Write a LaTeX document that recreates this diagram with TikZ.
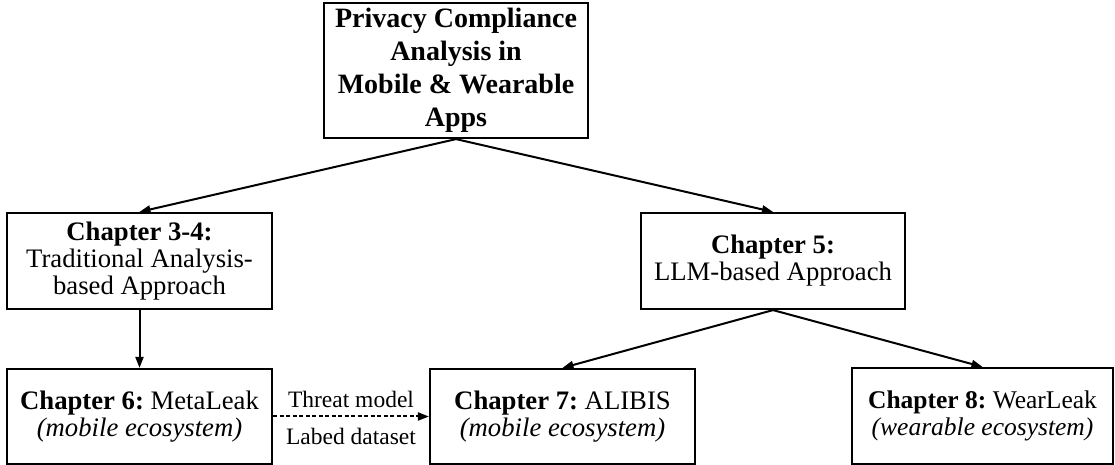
\documentclass[tikz,border=0pt]{standalone}
\usepackage{fontspec}
\setmainfont{Liberation Serif}
\usetikzlibrary{arrows.meta}
\frenchspacing
\begin{document}
\begin{tikzpicture}[x=1pt,y=1pt,
  box/.style={draw=black, line width=2.2pt, align=center, inner sep=0pt,
    font=\fontsize{26.7}{27}\selectfont},
  arr/.style={line width=2pt, -{Triangle[length=11pt,width=8pt]}},
  lbl/.style={font=\fontsize{23.5}{25}\selectfont, inner sep=0pt, anchor=base}]
\useasboundingbox (0,0) rectangle (1115,465);
\node[box, minimum width=264, minimum height=135,
  font=\fontsize{28}{33}\selectfont\bfseries] (top) at (456,394.5)
  {Privacy Compliance\\Analysis in\\Mobile \& Wearable\\Apps};
\node[box, minimum width=265, minimum height=96] (c34) at (139.5,204)
  {\textbf{Chapter 3-4:}\\Traditional Analysis-\\based Approach};
\node[box, minimum width=264, minimum height=96] (c5) at (773,204)
  {\textbf{Chapter 5:}\\LLM-based Approach};
\node[box, minimum width=265, minimum height=95] (c6) at (139.5,48.5)
  {\textbf{Chapter 6:} MetaLeak\\\textit{(mobile ecosystem)}};
\node[box, minimum width=265, minimum height=95] (c7) at (562.5,48.5)
  {\textbf{Chapter 7:} ALIBIS\\\textit{(mobile ecosystem)}};
\node[box, minimum width=261, minimum height=96,
  font=\fontsize{25.5}{27}\selectfont] (c8) at (982.5,49)
  {\textbf{Chapter 8:} WearLeak\\\textit{(wearable ecosystem)}};
\draw[arr] (top.south) -- (c34.north);
\draw[arr] (top.south) -- (c5.north);
\draw[arr] (c34.south) -- (c6.north);
\draw[arr] (c5.south) -- (c7.north);
\draw[arr] (c5.south) -- (c8.north);
\draw[arr, dash pattern=on 4pt off 2.5pt] (c6.east) -- (c7.west)
  node[lbl, midway, yshift=9pt] (tm) {Threat model}
  node[lbl, midway, yshift=-28pt] (ld) {Labed dataset};
\end{tikzpicture}
\end{document}
